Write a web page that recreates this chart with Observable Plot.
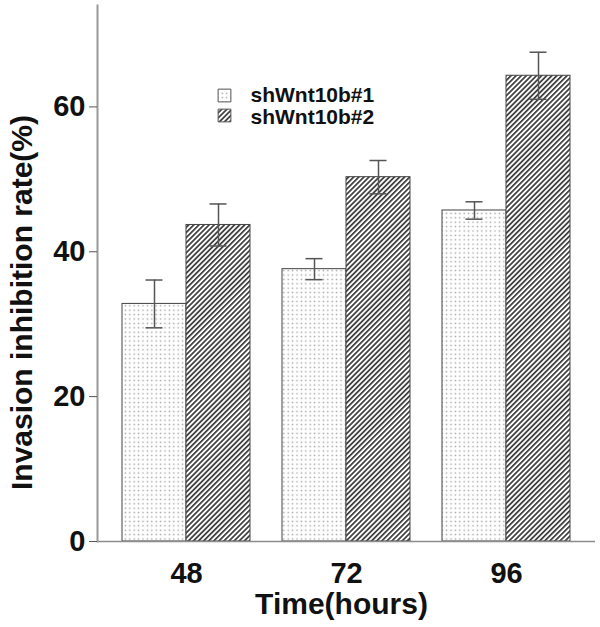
<!DOCTYPE html>
<html><head><meta charset="utf-8">
<script src="https://cdn.jsdelivr.net/npm/d3@7"></script>
<script src="https://cdn.jsdelivr.net/npm/@observablehq/plot@0.6"></script>
<style>body{margin:0;background:#fff}</style>
</head><body><div id="chart"></div>
<script>
const times = ["48", "72", "96"];
const series = ["shWnt10b#1", "shWnt10b#2"];
const meanS1 = [32.8, 37.6, 45.7];
const errS1 = [3.3, 1.45, 1.2];
const meanS2 = [43.7, 50.3, 64.3];
const errS2 = [2.9, 2.3, 3.25];
const yTicks = [0, 20, 40, 60];
const xLabel = "Time(hours)";
const yLabel = "Invasion inhibition rate(%)";

const rows1 = times.map((t, i) => ({time: t, series: series[0], value: meanS1[i], err: errS1[i]}));
const rows2 = times.map((t, i) => ({time: t, series: series[1], value: meanS2[i], err: errS2[i]}));

const FONT = "Liberation Sans, Arial, Helvetica, sans-serif";
const W = 600, H = 627, ML = 97, MR = 5, MT = 5, MB = 86;
const xOpts = {type: "band", domain: times, range: [ML, W - MR], paddingInner: 0.2, paddingOuter: 0.15625, round: false};
const bw = Plot.scale({x: xOpts}).bandwidth;   // width of one time group
const half = bw / 2;                            // one bar
const capInset = (half - 17) / 2;

const defs = () => {
  const g = d3.create("svg:g");
  const d = g.append("defs");
  const dots = d.append("pattern").attr("id", "dots").attr("patternUnits", "userSpaceOnUse")
    .attr("width", 4.4).attr("height", 4.4);
  dots.append("rect").attr("width", 4.4).attr("height", 4.4).attr("fill", "white");
  dots.append("rect").attr("x", 1.5).attr("y", 1.5).attr("width", 1.4).attr("height", 1.4).attr("fill", "#a0a0a0");
  const hatch = d.append("pattern").attr("id", "hatch").attr("patternUnits", "userSpaceOnUse")
    .attr("width", 3.6).attr("height", 3.6).attr("patternTransform", "rotate(45)");
  hatch.append("rect").attr("width", 3.6).attr("height", 3.6).attr("fill", "white");
  hatch.append("rect").attr("width", 1.7).attr("height", 3.6).attr("fill", "#3a3a3a");
  return g.node();
};

function seriesMarks(rows, side) {
  const inset = side === 0 ? {insetRight: half} : {insetLeft: half};
  const dx = side === 0 ? -half / 2 : half / 2;
  const capL = side === 0 ? capInset : half + capInset;
  const capR = side === 0 ? half + capInset : capInset;
  return [
    Plot.barY(rows, {x: "time", y: "value", fill: "series", stroke: "#444", strokeWidth: 1, ...inset}),
    Plot.ruleX(rows, {x: "time", y1: d => d.value - d.err, y2: d => d.value + d.err, dx, stroke: "#555", strokeWidth: 1.5}),
    Plot.tickY(rows, {x: "time", y: d => d.value + d.err, stroke: "#555", strokeWidth: 1.5, insetLeft: capL, insetRight: capR}),
    Plot.tickY(rows, {x: "time", y: d => d.value - d.err, stroke: "#555", strokeWidth: 1.5, insetLeft: capL, insetRight: capR})
  ];
}

const legendMarks = series.flatMap((s, i) => [
  Plot.dot([s], {frameAnchor: "top-left", dx: 127, dy: 90 + i * 20,
    symbol: "square", r: 7.2, fill: i === 0 ? "url(#dots)" : "url(#hatch)", stroke: "#555", strokeWidth: 1}),
  Plot.text([s], {frameAnchor: "top-left", dx: 153, dy: 90 + i * 22, lineAnchor: "middle",
    text: d => d, textAnchor: "start", fontSize: 21, fontWeight: "bold", fill: "#111"})
]);

const plot = Plot.plot({
  width: W,
  height: H,
  marginLeft: ML,
  marginRight: MR,
  marginTop: MT,
  marginBottom: MB,
  style: {fontFamily: FONT, background: "#fff"},
  x: {...xOpts, axis: null},
  y: {domain: [0, 74], axis: null},
  color: {domain: series, range: ["url(#dots)", "url(#hatch)"]},
  marks: [
    defs,
    ...seriesMarks(rows1, 0),
    ...seriesMarks(rows2, 1),
    Plot.axisX({anchor: "bottom", tickSize: 0, tickPadding: 21, fontSize: 29, fontWeight: "bold", fill: "#111", label: null}),
    Plot.ruleY([0], {stroke: "#8c8c8c", strokeWidth: 1.5}),
    Plot.frame({anchor: "left", stroke: "#999", strokeWidth: 2}),
    Plot.axisY({ticks: yTicks, tickSize: 8, tickPadding: 4, fontSize: 29, fontWeight: "bold", fill: "#111", stroke: "#555", label: null}),
    Plot.text([xLabel], {frameAnchor: "bottom", dx: -5, dy: 63, lineAnchor: "middle", textAnchor: "middle",
      text: d => d, fontSize: 30, fontWeight: "bold", fill: "#111"}),
    Plot.text([yLabel], {frameAnchor: "left", dx: -75, dy: 29, rotate: -90, lineAnchor: "middle", textAnchor: "middle",
      text: d => d, fontSize: 30, fontWeight: "bold", fill: "#111"}),
    ...legendMarks
  ]
});
document.getElementById("chart").append(plot);
</script>
</body></html>
